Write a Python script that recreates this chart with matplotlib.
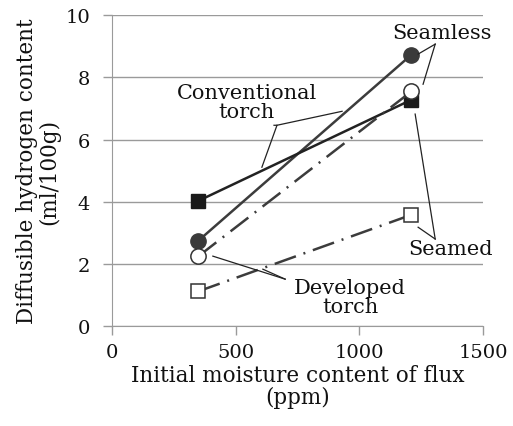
import matplotlib
matplotlib.use('Agg')
import matplotlib.pyplot as plt

# moisture content of flux (ppm)
moisture = [350, 1210]

# diffusible hydrogen (ml/100g)
conv_seamless = [2.75, 8.73]
conv_seamed = [4.03, 7.28]
dev_seamless = [2.25, 7.55]
dev_seamed = [1.12, 3.58]

xticks = [0, 500, 1000, 1500]
yticks = [0, 2, 4, 6, 8, 10]

plt.rcParams['font.family'] = ['DejaVu Serif']
plt.rcParams['font.size'] = 15

fig = plt.figure(figsize=(5.13, 4.27), dpi=100)
ax = fig.add_axes([0.218, 0.234, 0.724, 0.728])

line_col = '#3c3c3c'
dashdot = (0, (9, 3.2, 0.8, 3.2))

ax.plot(moisture, conv_seamless, color=line_col, lw=1.8, marker='o',
        markersize=11, markerfacecolor='#3a3a3a', markeredgecolor='#3a3a3a', zorder=3)
ax.plot(moisture, conv_seamed, color='#222222', lw=1.8, marker='s',
        markersize=9.5, markerfacecolor='#1a1a1a', markeredgecolor='#1a1a1a', zorder=3)
ax.plot(moisture, dev_seamless, color=line_col, lw=1.8, ls=dashdot, marker='o',
        markersize=11, markerfacecolor='white', markeredgecolor='#333333', markeredgewidth=1.1, zorder=3)
ax.plot(moisture, dev_seamed, color=line_col, lw=1.8, ls=dashdot, marker='s',
        markersize=9.5, markerfacecolor='white', markeredgecolor='#333333', markeredgewidth=1.1, zorder=3)

ax.set_xlim(0, 1500)
ax.set_ylim(0, 10)
ax.set_xticks(xticks)
ax.set_yticks(yticks)
ax.yaxis.grid(True, color='#9a9a9a', lw=1)
ax.set_axisbelow(True)
for s in ['top', 'right']:
    ax.spines[s].set_visible(False)
for s in ['left', 'bottom']:
    ax.spines[s].set_color('#9a9a9a')
ax.tick_params(axis='both', colors='#9a9a9a', length=6.5, width=1,
               labelcolor='#111111', labelsize=14)
ax.tick_params(axis='y', pad=9)
ax.tick_params(axis='x', pad=6)

ax.set_xlabel('Initial moisture content of flux\n(ppm)', linespacing=1.0,
              color='#111111', fontsize=15.5, labelpad=2)
ax.set_ylabel('Diffusible hydrogen content\n(ml/100g)', linespacing=1.0,
              color='#111111', fontsize=15.5, labelpad=4)

lk = dict(color='#222222', lw=0.9, zorder=4)

# Seamless
ax.text(1335, 9.45, 'Seamless', ha='center', va='center', color='#111111')
ax.plot([1306, 1237], [9.07, 8.75], **lk)
ax.plot([1306, 1257], [9.07, 7.78], **lk)

# Conventional torch
ax.text(545, 7.2, 'Conventional\ntorch', ha='center', va='center', linespacing=1.0, color='#111111')
ax.plot([655, 667, 930], [6.46, 6.46, 6.91], **lk)
ax.plot([667, 606], [6.46, 5.11], **lk)

# Seamed
ax.text(1367, 2.48, 'Seamed', ha='center', va='center', color='#111111')
ax.plot([1306, 1237], [2.80, 3.18], **lk)
ax.plot([1306, 1225], [2.80, 6.82], **lk)

# Developed torch
ax.text(962, 0.93, 'Developed\ntorch', ha='center', va='center', linespacing=1.0, color='#111111')
ax.plot([700, 408], [1.51, 2.25], **lk)
ax.plot([700, 610], [1.51, 1.83], **lk)

fig.savefig('out.png', dpi=100)
